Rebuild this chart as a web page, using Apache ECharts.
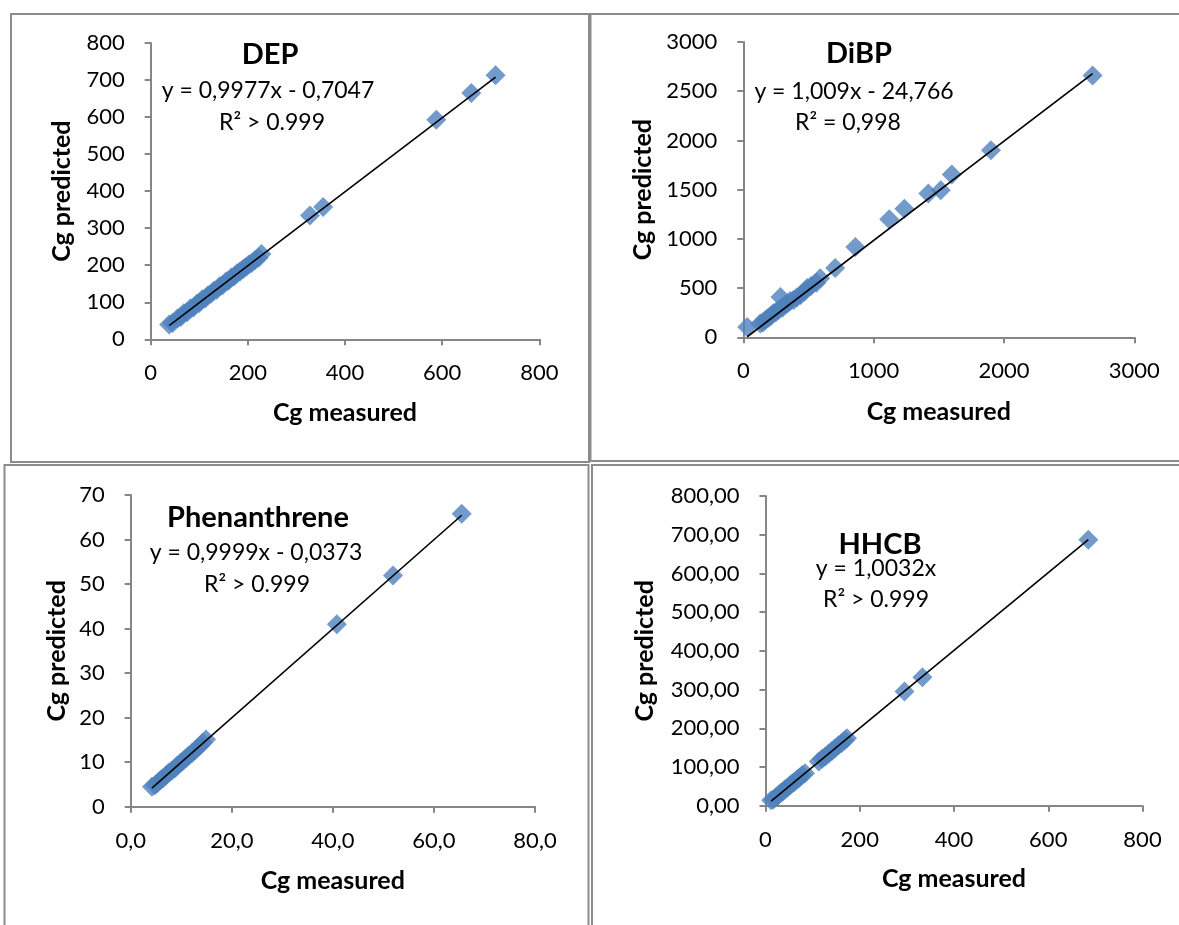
<!DOCTYPE html>
<html>
<head>
<meta charset="utf-8">
<script src="https://cdn.jsdelivr.net/npm/echarts@6/dist/echarts.min.js"></script>
<style>
html,body{margin:0;padding:0;background:#fff;}
#chart{width:1179px;height:925px;}
</style>
</head>
<body>
<div id="chart"></div>
<script>
// ---- Data ----
const panelNames = ['DEP', 'DiBP', 'Phenanthrene', 'HHCB'];
const equations = ['y = 0,9977x - 0,7047', 'y = 1,009x - 24,766', 'y = 0,9999x - 0,0373', 'y = 1,0032x'];
const r2Texts = ['R² > 0.999', 'R² = 0,998', 'R² > 0.999', 'R² > 0.999'];
const slopes = [0.9977, 1.009, 0.9999, 1.0032];
const intercepts = [-0.7047, -24.766, -0.0373, 0];

const depX = [38, 45, 55, 62, 68, 75, 82, 88, 95, 100, 106, 112, 118, 124, 130, 136, 142, 148, 155, 160, 166, 172, 178, 184, 190, 196, 202, 208, 215, 222, 228, 328, 355, 588, 660, 710];
const depY = [40, 44, 56, 60, 70, 73, 84, 86, 96, 98, 108, 110, 119, 123, 131, 134, 143, 146, 156, 158, 167, 170, 178, 183, 190, 195, 202, 206, 214, 220, 230, 334, 357, 593, 665, 713];

const dibpX = [30, 130, 150, 170, 190, 210, 230, 250, 270, 285, 300, 320, 340, 360, 385, 410, 440, 470, 490, 520, 560, 590, 705, 860, 1120, 1236, 1420, 1515, 1600, 1900, 2680];
const dibpY = [105, 140, 150, 175, 195, 215, 245, 255, 280, 410, 300, 330, 345, 370, 378, 405, 430, 465, 500, 520, 555, 600, 703, 918, 1200, 1305, 1462, 1495, 1655, 1900, 2660];

const phenX = [4.2, 4.8, 5.3, 5.9, 6.4, 7.0, 7.5, 8.1, 8.7, 9.2, 9.8, 10.4, 10.9, 11.5, 12.1, 12.7, 13.2, 13.8, 14.3, 14.9, 40.8, 51.9, 65.5];
const phenY = [4.5, 4.8, 5.3, 6.0, 6.4, 7.0, 7.6, 8.1, 8.6, 9.2, 9.8, 10.3, 10.9, 11.5, 12.0, 12.7, 13.2, 13.8, 14.4, 15.1, 41.0, 51.9, 65.8];

const hhcbX = [12, 17, 22, 27, 32, 37, 42, 47, 52, 57, 62, 67, 72, 78, 84, 113, 120, 127, 134, 141, 148, 155, 162, 168, 173, 295, 333, 685];
const hhcbY = [14, 16, 22, 27, 33, 37, 43, 47, 53, 58, 62, 68, 72, 79, 84, 114, 121, 127, 135, 141, 149, 156, 162, 169, 174, 295, 332, 687];

const xMax = [800, 3000, 80, 800];
const xStep = [200, 1000, 20, 200];
const yMax = [800, 3000, 70, 800];
const yStep = [100, 500, 10, 100];

// ---- Layout / style ----
const FONT = 'Lato, "Open Sans", sans-serif';
const grids = [
  {left: 150.7, top: 43, width: 388.6, height: 296.3},
  {left: 743.3, top: 42, width: 391, height: 295.3},
  {left: 130.7, top: 495, width: 404.3, height: 311.7},
  {left: 765.5, top: 496, width: 377, height: 309.7}
];
const yNameGap = [76, 88, 61, 108];
const xNameGap = [61, 62, 62, 61];
const titlePos = [[270, 55], [859, 54], [258, 518], [880, 545]];
const eqPos = [[268, 91], [854, 92], [256, 553], [876, 569]];
const r2Pos = [[272, 123], [848, 123], [257, 585], [876, 600]];
const frames = [
  [11, 14, 578, 448],
  [590.5, 14, 600, 447],
  [4.5, 465, 584, 470],
  [592, 465, 600, 470]
];

const xs = [depX, dibpX, phenX, hhcbX];
const ys = [depY, dibpY, phenY, hhcbY];

const axisColor = '#868686';
const xFmt = [v => String(v), v => String(v), v => v.toFixed(1).replace('.', ','), v => String(v)];
const yFmt = [v => String(v), v => String(v), v => String(v), v => v.toFixed(2).replace('.', ',')];

const xAxes = [], yAxes = [], series = [], graphics = [];
for (let i = 0; i < 4; i++) {
  xAxes.push({
    gridIndex: i, type: 'value', min: 0, max: xMax[i], interval: xStep[i],
    name: 'Cg measured', nameLocation: 'middle', nameGap: xNameGap[i],
    nameTextStyle: {fontFamily: FONT, fontWeight: 'bold', fontSize: 25, color: '#000'},
    axisLine: {show: true, onZero: false, lineStyle: {color: axisColor, width: 2}},
    axisTick: {show: true, length: 6, lineStyle: {color: axisColor, width: 2}},
    axisLabel: {fontFamily: FONT, fontSize: 22, color: '#000', margin: 23, formatter: xFmt[i]},
    splitLine: {show: false}
  });
  yAxes.push({
    gridIndex: i, type: 'value', min: 0, max: yMax[i], interval: yStep[i],
    name: 'Cg predicted', nameLocation: 'middle', nameGap: yNameGap[i],
    nameTextStyle: {fontFamily: FONT, fontWeight: 'bold', fontSize: 25, color: '#000'},
    axisLine: {show: true, onZero: false, lineStyle: {color: axisColor, width: 2}},
    axisTick: {show: true, length: 6, lineStyle: {color: axisColor, width: 2}},
    axisLabel: {fontFamily: FONT, fontSize: 22, color: '#000', margin: 26, formatter: yFmt[i]},
    splitLine: {show: false}
  });
  const pts = xs[i].map((x, k) => [x, ys[i][k]]);
  series.push({
    type: 'scatter', xAxisIndex: i, yAxisIndex: i, data: pts,
    symbol: 'diamond', symbolSize: [20, 20],
    itemStyle: {color: '#4F81BD'}, z: 2, silent: true
  });
  const x0 = Math.min(...xs[i]), x1 = Math.max(...xs[i]);
  series.push({
    type: 'line', xAxisIndex: i, yAxisIndex: i,
    data: [[x0, slopes[i] * x0 + intercepts[i]], [x1, slopes[i] * x1 + intercepts[i]]],
    showSymbol: false, lineStyle: {color: '#000', width: 1.6}, z: 3, silent: true
  });
  const f = frames[i];
  graphics.push({type: 'rect', shape: {x: f[0], y: f[1], width: f[2], height: f[3]},
    style: {fill: 'none', stroke: '#8c8c8c', lineWidth: 2}, z: 0});
  graphics.push({type: 'text', x: titlePos[i][0], y: titlePos[i][1],
    style: {text: panelNames[i], font: 'bold 29px ' + FONT, fill: '#000', textAlign: 'center', textVerticalAlign: 'middle'}, z: 10});
  graphics.push({type: 'text', x: eqPos[i][0], y: eqPos[i][1],
    style: {text: equations[i], font: '23px ' + FONT, fill: '#000', textAlign: 'center', textVerticalAlign: 'middle'}, z: 10});
  graphics.push({type: 'text', x: r2Pos[i][0], y: r2Pos[i][1],
    style: {text: r2Texts[i], font: '23px ' + FONT, fill: '#000', textAlign: 'center', textVerticalAlign: 'middle'}, z: 10});
}

const chart = echarts.init(document.getElementById('chart'), null, {renderer: 'canvas'});
chart.setOption({
  animation: false,
  backgroundColor: '#fff',
  grid: grids,
  xAxis: xAxes,
  yAxis: yAxes,
  series: series,
  graphic: graphics
});
</script>
</body>
</html>
